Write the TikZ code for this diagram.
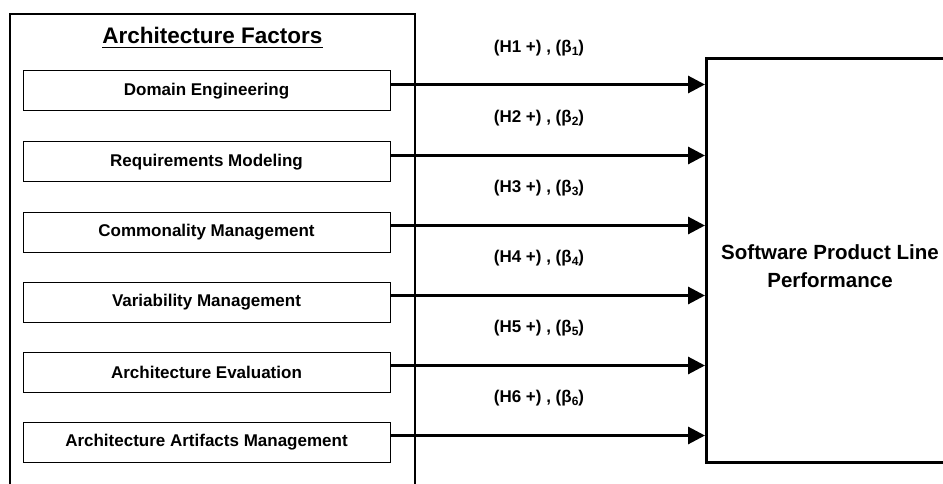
\documentclass[tikz,border=0pt]{standalone}
\usepackage{fontspec}
\setmainfont{Liberation Sans}
\usetikzlibrary{arrows.meta}
\tikzset{
  factor/.style={draw=black, line width=1pt, minimum width=367pt, minimum height=40pt, inner sep=0pt, font=\fontsize{17}{19}\selectfont\bfseries},
  link/.style={line width=3pt, -{Triangle[length=17pt,width=17pt]}},
  hyp/.style={inner sep=0pt, font=\fontsize{17}{19}\selectfont\bfseries},
  outline/.style={draw=black, line width=2pt}
}
\newcommand{\sbs}[1]{\raisebox{-3pt}{\fontsize{12}{12}\selectfont #1}}
\begin{document}
\begin{tikzpicture}[x=1pt,y=-1pt]
\useasboundingbox (0,0) rectangle (943,484);
\begin{scope}
\clip (0,0) rectangle (943,484);
% left outer frame (open at bottom)
\draw[outline] (10,490) -- (10,14) -- (415,14) -- (415,490);
% right target box
\node[draw=black, line width=3pt, minimum width=260pt, minimum height=404pt, anchor=north west, inner sep=0pt] (R) at (705,57) {};
\node[align=center, inner sep=0pt, font=\fontsize{20.5}{28}\selectfont\bfseries] (Rt) at (830,266) {Software Product Line\\Performance};
% title
\node[inner sep=0pt, font=\fontsize{22.5}{25}\selectfont\bfseries] (title) at (212.5,35) {Architecture Factors};
\draw[line width=1.8pt] ([yshift=-4.5pt]title.base west) -- ([yshift=-4.5pt]title.base east);
% factor boxes
\node[factor] (b1) at (206.5,91) {Domain Engineering};
\node[factor] (b2) at (206.5,162) {Requirements Modeling};
\node[factor] (b3) at (206.5,232) {Commonality Management};
\node[factor] (b4) at (206.5,302) {Variability Management};
\node[factor] (b5) at (206.5,372) {Architecture Evaluation};
\node[factor] (b6) at (206.5,442) {Architecture Artifacts Management};
% arrows
\foreach \i in {1,...,6}{
  \draw[link] ([yshift=6.5pt]b\i.east) -- ([yshift=6.5pt]b\i.east -| R.west);
}
% hypothesis labels
\node[hyp] (h1) at (539,48) {(H1 +) , (β\sbs{1})};
\node[hyp] (h2) at (539,118) {(H2 +) , (β\sbs{2})};
\node[hyp] (h3) at (539,188) {(H3 +) , (β\sbs{3})};
\node[hyp] (h4) at (539,258) {(H4 +) , (β\sbs{4})};
\node[hyp] (h5) at (539,328) {(H5 +) , (β\sbs{5})};
\node[hyp] (h6) at (539,398) {(H6 +) , (β\sbs{6})};
\end{scope}
\end{tikzpicture}
\end{document}
